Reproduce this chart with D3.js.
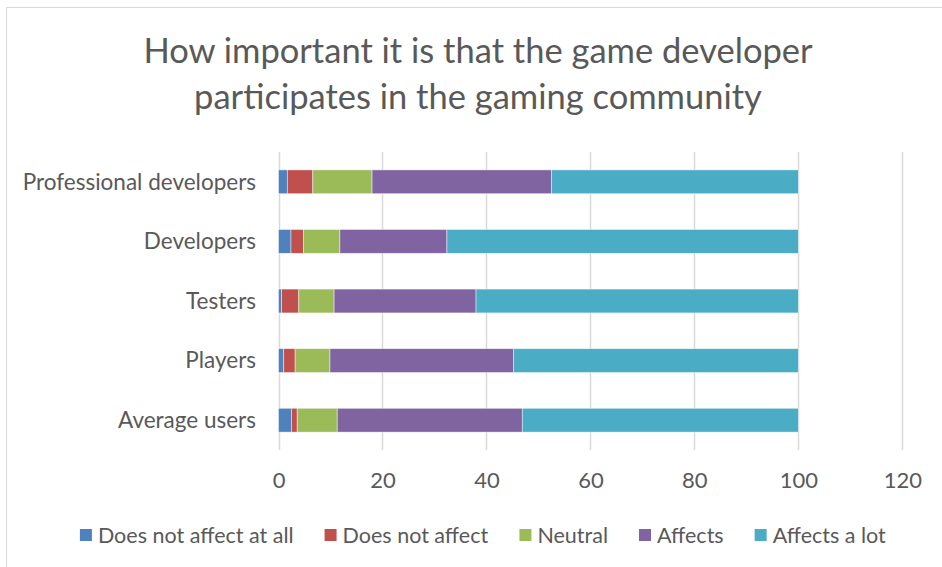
<!DOCTYPE html>
<html>
<head>
<meta charset="utf-8">
<script src="https://cdn.jsdelivr.net/npm/d3@7"></script>
<style>
  html, body { margin: 0; padding: 0; background: #fff; }
  svg { display: block; font-family: Lato, "Open Sans", sans-serif; }
</style>
</head>
<body>
<svg id="chart" width="942" height="567"></svg>
<script>
// Survey groups, top to bottom
const categories = ["Professional developers", "Developers", "Testers", "Players", "Average users"];
// Response options (stack order, left to right)
const seriesNames = ["Does not affect at all", "Does not affect", "Neutral", "Affects", "Affects a lot"];
const seriesColors = ["#4F81BD", "#C0504D", "#9BBB59", "#8064A2", "#4BACC6"];
// Percent of respondents per group, one array per response option
const doesNotAffectAtAll = [1.7, 2.4, 0.6, 1.0, 2.5];
const doesNotAffect      = [4.9, 2.4, 3.3, 2.2, 1.1];
const neutral            = [11.4, 7.0, 6.8, 6.7, 7.7];
const affects            = [34.5, 20.6, 27.3, 35.3, 35.6];
const affectsALot        = [47.5, 67.6, 62.0, 54.8, 53.1];
const xTicks = [0, 20, 40, 60, 80, 100, 120];
const titleLines = ["How important it is that the game developer", "participates in the gaming community"];

const seriesValues = [doesNotAffectAtAll, doesNotAffect, neutral, affects, affectsALot];
const rows = categories.map((c, i) => {
  const r = { category: c };
  seriesNames.forEach((s, k) => { r[s] = seriesValues[k][i]; });
  return r;
});
const stacked = d3.stack().keys(seriesNames)(rows);

const svg = d3.select("#chart");
const textColor = "#595959";
const gridColor = "#D9D9D9";
const fontStack = "Lato, 'Open Sans', sans-serif";

// chart frame
svg.append("rect")
  .attr("x", 6.5).attr("y", 7.5)
  .attr("width", 1000).attr("height", 1000)
  .attr("fill", "#fff").attr("stroke", gridColor).attr("stroke-width", 1);

// title
svg.append("text")
  .attr("text-anchor", "middle")
  .attr("fill", textColor)
  .attr("font-size", 34.5)
  .selectAll("tspan").data(titleLines).join("tspan")
  .attr("x", 478).attr("y", (d, i) => 63 + i * 46)
  .text(d => d);

const plot = { left: 278.5, right: 902.3, top: 152, bottom: 450 };
const x = d3.scaleLinear().domain([0, 120]).range([plot.left, plot.right]);
const y = d3.scaleBand().domain(categories)
  .range([plot.top, plot.bottom]).paddingInner(0.6).paddingOuter(0.3);

// vertical gridlines
svg.append("g").selectAll("line").data(xTicks).join("line")
  .attr("x1", d => Math.round(x(d)) + 0.5).attr("x2", d => Math.round(x(d)) + 0.5)
  .attr("y1", plot.top).attr("y2", plot.bottom)
  .attr("stroke", gridColor).attr("stroke-width", 1.5);

// stacked bars
svg.append("g").selectAll("g").data(stacked).join("g")
  .attr("fill", (d, k) => seriesColors[k])
  .selectAll("rect").data(d => d).join("rect")
  .attr("x", d => x(d[0]))
  .attr("width", d => x(d[1]) - x(d[0]))
  .attr("y", d => y(d.data.category))
  .attr("height", y.bandwidth())
  .attr("stroke", "#fff").attr("stroke-opacity", 0.6).attr("stroke-width", 0.75);

// value axis labels
const xAxis = d3.axisBottom(x).tickValues(xTicks).tickSize(0).tickPadding(0).tickFormat(d3.format("d"));
const gx = svg.append("g").attr("transform", `translate(0,${plot.bottom})`).call(xAxis);
gx.select(".domain").remove();
gx.selectAll("text").attr("font-size", 22).attr("font-family", fontStack)
  .attr("fill", textColor).attr("dy", 0).attr("y", 38);

// category axis labels
const yAxis = d3.axisLeft(y).tickSize(0).tickPadding(0);
const gy = svg.append("g").attr("transform", `translate(256,0)`).call(yAxis);
gy.select(".domain").remove();
gy.selectAll("text").attr("font-size", 22.5).attr("font-family", fontStack)
  .attr("fill", textColor).attr("dy", "0.35em");

// legend
const legend = svg.append("g").attr("transform", "translate(0,535)");
const items = legend.selectAll("g").data(seriesNames).join("g");
items.append("rect").attr("width", 12).attr("height", 12).attr("y", -6)
  .attr("fill", (d, k) => seriesColors[k]);
items.append("text").attr("x", 18).attr("dy", "0.35em")
  .attr("font-size", 21.5).attr("fill", textColor).text(d => d);
const widths = [];
items.each(function () { widths.push(this.getBBox().width); });
const gap = 31;
const total = d3.sum(widths) + gap * (widths.length - 1);
let cx = 483 - total / 2;
items.attr("transform", (d, k) => {
  const t = `translate(${cx},0)`;
  cx += widths[k] + gap;
  return t;
});
</script>
</body>
</html>
